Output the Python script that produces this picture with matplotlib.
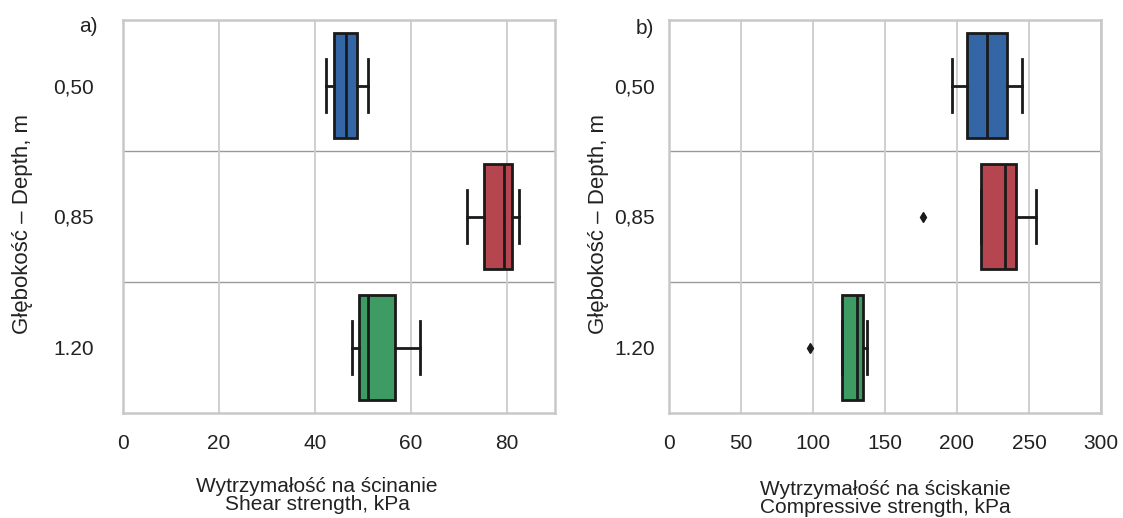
import matplotlib
matplotlib.use("Agg")
import matplotlib.pyplot as plt

plt.rcParams["font.family"] = ["Liberation Sans", "DejaVu Sans"]

# depth categories (top to bottom)
depths = ["0,50", "0,85", "1.20"]
colors = ["#3465a4", "#b5454e", "#3d9b63"]

# a) shear strength, kPa  -> whislo, q1, median, q3, whishi
shear_q1 = [44.0, 75.3, 49.2]
shear_med = [46.4, 79.4, 51.0]
shear_q3 = [48.8, 81.0, 56.6]
shear_lo = [42.2, 71.6, 47.8]
shear_hi = [51.1, 82.4, 61.9]
shear_out = [[], [], []]

# b) compressive strength, kPa
comp_q1 = [207.0, 216.7, 119.9]
comp_med = [221.0, 233.3, 130.8]
comp_q3 = [235.0, 241.2, 134.5]
comp_lo = [196.3, 216.7, 119.9]
comp_hi = [245.4, 255.1, 137.8]
comp_out = [[], [176.7], [98.2]]

TXT = "#222222"
FS = 15


def make_stats(q1, med, q3, lo, hi, out):
    return [dict(q1=q1[i], med=med[i], q3=q3[i], whislo=lo[i], whishi=hi[i],
                 fliers=out[i], label=depths[i]) for i in range(len(depths))]


def draw(ax, stats, xlim, xticks, ypad):
    pos = list(range(len(stats)))
    bp = ax.bxp(stats, positions=pos, vert=False, widths=0.8, patch_artist=True,
                showfliers=True,
                boxprops=dict(linewidth=2.0, edgecolor="#1a1a1a"),
                medianprops=dict(color="#1a1a1a", linewidth=2.0),
                whiskerprops=dict(color="#1a1a1a", linewidth=2.0),
                capprops=dict(color="#1a1a1a", linewidth=2.0),
                flierprops=dict(marker="d", markersize=5, markerfacecolor="#1a1a1a",
                                markeredgecolor="#1a1a1a"))
    for patch, c in zip(bp["boxes"], colors):
        patch.set_facecolor(c)
    ax.set_xlim(*xlim)
    ax.set_ylim(len(stats) - 0.5, -0.5)
    ax.set_xticks(xticks)
    ax.set_yticks(pos)
    ax.set_yticklabels(depths)
    ax.xaxis.grid(True, color="#cccccc", linewidth=1.3)
    ax.set_axisbelow(True)
    for y in [0.5, 1.5]:
        ax.axhline(y, color="#9a9a9a", linewidth=1.0, zorder=0)
    for s in ax.spines.values():
        s.set_color("#c8c8c8")
        s.set_linewidth(1.8)
    ax.tick_params(axis="x", length=0, pad=15, labelsize=FS, labelcolor=TXT)
    ax.tick_params(axis="y", length=0, pad=ypad, labelsize=FS, labelcolor=TXT)


fig = plt.figure(figsize=(11.23, 5.18), dpi=100)
ax1 = fig.add_axes([123 / 1123, 105 / 518, 432 / 1123, 393 / 518])
ax2 = fig.add_axes([669 / 1123, 105 / 518, 432 / 1123, 393 / 518])

draw(ax1, make_stats(shear_q1, shear_med, shear_q3, shear_lo, shear_hi, shear_out),
     (0, 90), [0, 20, 40, 60, 80], 21)
draw(ax2, make_stats(comp_q1, comp_med, comp_q3, comp_lo, comp_hi, comp_out),
     (0, 300), [0, 50, 100, 150, 200, 250, 300], 10)

ax1.set_ylabel("Głębokość – Depth, m", fontsize=16, color=TXT)
ax1.yaxis.set_label_coords(-0.208, 0.48)
ax2.set_ylabel("Głębokość – Depth, m", fontsize=16, color=TXT)
ax2.yaxis.set_label_coords(-0.14, 0.48)

ax1.set_xlabel("Wytrzymałość na ścinanie\nShear strength, kPa", fontsize=FS,
               color=TXT, linespacing=0.95)
ax1.xaxis.set_label_coords(0.449, -0.163)
ax2.set_xlabel("Wytrzymałość na ściskanie\nCompressive strength, kPa", fontsize=FS,
               color=TXT, linespacing=0.95)
ax2.xaxis.set_label_coords(0.5, -0.17)

fig.text(88 / 1123, 1 - 26 / 518, "a)", fontsize=FS, color=TXT, ha="center", va="center")
fig.text(645 / 1123, 1 - 28 / 518, "b)", fontsize=FS, color=TXT, ha="center", va="center")

fig.savefig("out.png", dpi=100)
